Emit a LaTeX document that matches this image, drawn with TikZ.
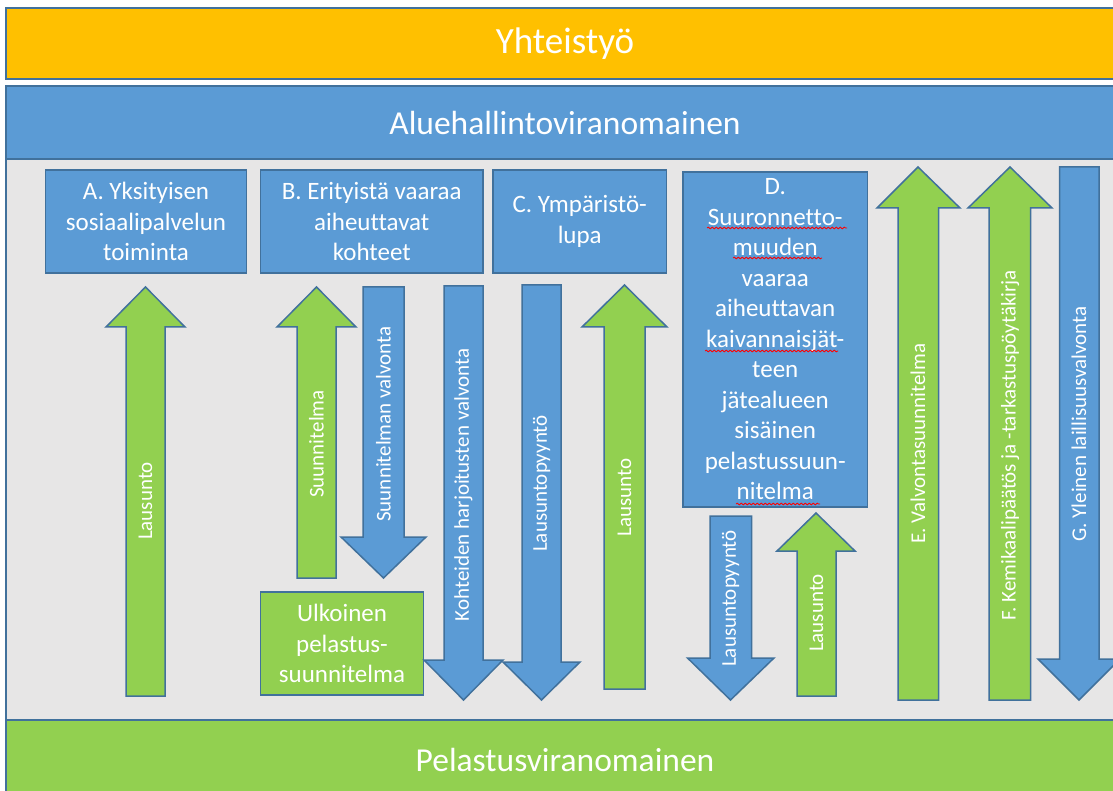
\documentclass[tikz,border=0pt]{standalone}
\usepackage{fontspec}
\setmainfont{Carlito}[Ligatures=NoCommon]
\usetikzlibrary{decorations.pathmorphing}

\definecolor{coopyellow}{HTML}{FFC000}
\definecolor{aviblue}{HTML}{5B9BD5}
\definecolor{rescuegreen}{HTML}{92D050}
\definecolor{edgeblue}{HTML}{41719C}
\definecolor{areagray}{HTML}{E7E6E6}

\tikzset{
  bluebox/.style={draw=edgeblue, line width=1.5pt, fill=aviblue, text=white, align=center,
    inner sep=0pt, font=\fontsize{25}{30.5}\selectfont},
  greenbox/.style={bluebox, fill=rescuegreen},
  bar/.style={draw=edgeblue, line width=1.5pt, text=white, inner sep=0pt, minimum width=1118pt,
    font=\fontsize{33.5}{40}\selectfont},
  uparrow/.style={draw=edgeblue, line width=1.5pt, fill=rescuegreen},
  downarrow/.style={draw=edgeblue, line width=1.5pt, fill=aviblue},
  arrowtext/.style={text=white, rotate=90, inner sep=0pt, font=\fontsize{21}{25}\selectfont},
  spell/.style={draw=red, line width=0.8pt, decorate, decoration={snake, amplitude=0.9pt, segment length=4pt}}
}

\begin{document}
\begin{tikzpicture}[x=1pt,y=-1pt]
\useasboundingbox (0,0) rectangle (1113,791);
\clip (0,0) rectangle (1113,791);
\fill[white] (0,0) rectangle (1113,791);
\draw[draw=edgeblue, fill=areagray, line width=1.5pt] (6,159) rectangle (1124,720);
    \node[bar, fill=coopyellow, minimum height=71pt, font=\fontsize{37}{44}\selectfont] (coop) at (565,43.5) {Yhteistyö};
    \node[bar, fill=aviblue, minimum height=73pt] (avi) at (565,122.5) {Aluehallintoviranomainen};
    \node[bar, fill=rescuegreen, minimum height=80pt] (rescue) at (565,760) {Pelastusviranomainen};
    \node[bluebox, minimum width=201pt, minimum height=103pt] (boxA) at (146,221.5) {A. Yksityisen\\sosiaalipalvelun\\toiminta};
    \node[bluebox, minimum width=222.5pt, minimum height=103pt] (boxB) at (371.75,221.5) {B. Erityistä vaaraa\\aiheuttavat\\kohteet};
    \node[bluebox, minimum width=173.5pt, minimum height=103pt] (boxC) at (579.75,221.5) {C. Ympäristö-\\lupa};
    \node[bluebox, minimum width=184.5pt, minimum height=335pt] (boxD) at (775.25,339.5) {D.\\Suuronnetto-\\muuden\\vaaraa\\aiheuttavan\\kaivannaisjät-\\teen\\jätealueen\\sisäinen\\pelastussuun-\\nitelma};
    \node[greenbox, minimum width=163pt, minimum height=103pt] (outer) at (342,643.5) {Ulkoinen\\pelastus-\\suunnitelma};
    \draw[spell] (707,228) -- (847,228);
    \draw[spell] (733,258) -- (822,258);
    \draw[spell] (705,351) -- (838,351);
    \draw[spell] (736,504) -- (820,504);
\draw[uparrow] (126,696) -- (126,327) -- (106,327) -- (145.5,287) -- (185,327) -- (165,327) -- (165,696) -- cycle;
\draw[uparrow] (297,578) -- (297,327) -- (277,327) -- (316.5,287) -- (356,327) -- (336,327) -- (336,578) -- cycle;
\draw[downarrow] (363,287) -- (363,537) -- (341,537) -- (383.5,578) -- (426,537) -- (404,537) -- (404,287) -- cycle;
\draw[downarrow] (444,286) -- (444,660) -- (424,660) -- (463.5,700) -- (503,660) -- (483,660) -- (483,286) -- cycle;
\draw[downarrow] (522,285) -- (522,662) -- (503,662) -- (541.5,700) -- (580,662) -- (561,662) -- (561,285) -- cycle;
\draw[uparrow] (604,689) -- (604,327) -- (582,327) -- (624.5,285) -- (667,327) -- (645,327) -- (645,689) -- cycle;
\draw[downarrow] (710,516) -- (710,658) -- (687.5,658) -- (730.5,700) -- (774,658) -- (751.5,658) -- (751.5,516) -- cycle;
\draw[uparrow] (797,696) -- (797,551) -- (777,551) -- (816,513) -- (855,551) -- (836,551) -- (836,696) -- cycle;
\draw[uparrow] (898,700) -- (898,208) -- (877,208) -- (918,167) -- (960,208) -- (938.5,208) -- (938.5,700) -- cycle;
\draw[uparrow] (989,700) -- (989,208) -- (968,208) -- (1010,167) -- (1052,208) -- (1030.5,208) -- (1030.5,700) -- cycle;
\draw[downarrow] (1059.5,167) -- (1059.5,659) -- (1038,659) -- (1079,700) -- (1120,659) -- (1099,659) -- (1099,167) -- cycle;
    \node[arrowtext] (lausuntoA) at (145.5,501) {Lausunto};
    \node[arrowtext] (planB) at (316.5,444) {Suunnitelma};
    \node[arrowtext] (controlB) at (383.5,424) {Suunnitelman valvonta};
    \node[arrowtext] (drillB) at (463.5,485) {Kohteiden harjoitusten valvonta};
    \node[arrowtext] (requestC) at (541.5,483.5) {Lausuntopyyntö};
    \node[arrowtext] (lausuntoC) at (624.5,497.5) {Lausunto};
    \node[arrowtext] (requestD) at (730.5,598.5) {Lausuntopyyntö};
    \node[arrowtext] (lausuntoD) at (816.5,613) {Lausunto};
    \node[arrowtext] (planE) at (918,443.5) {E. Valvontasuunnitelma};
    \node[arrowtext] (decisionF) at (1010,445) {F. Kemikaalipäätös ja -tarkastuspöytäkirja};
    \node[arrowtext] (legalG) at (1079,424) {G. Yleinen laillisuusvalvonta};
\end{tikzpicture}
\end{document}
